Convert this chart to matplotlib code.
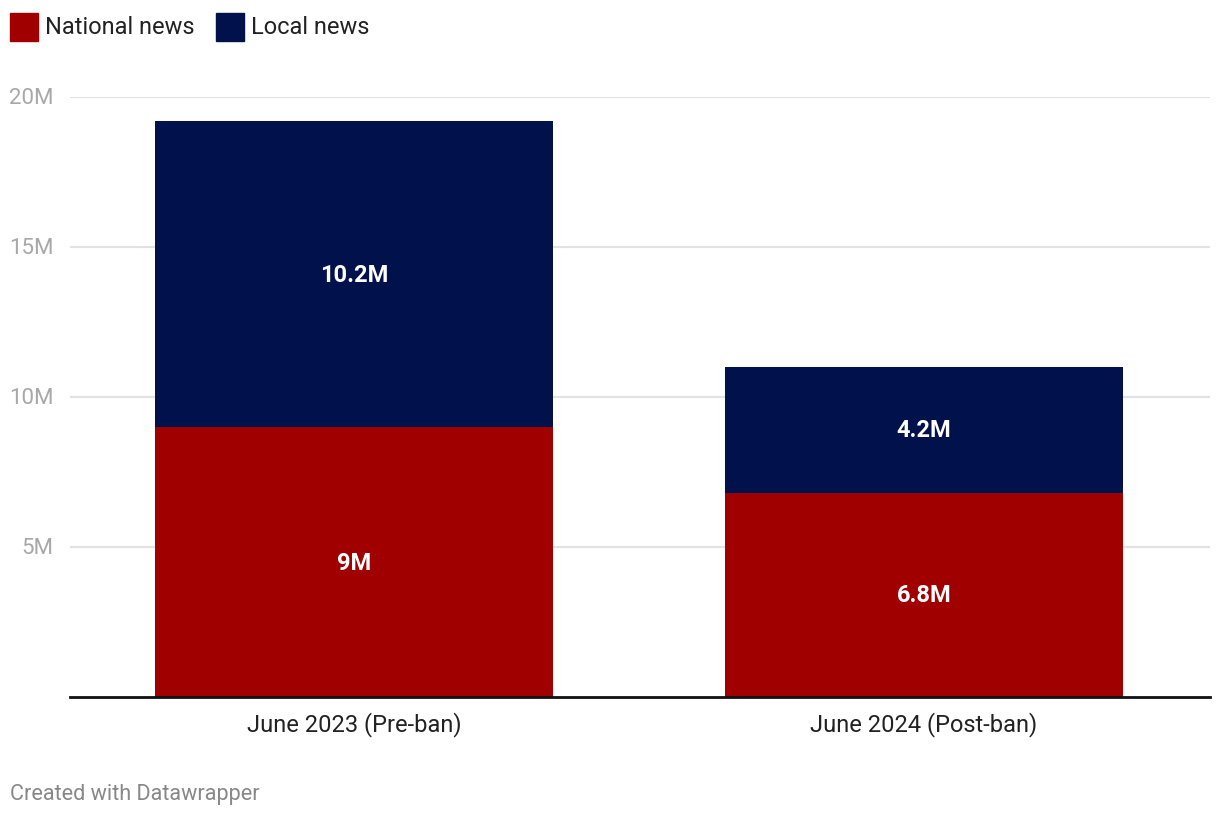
import matplotlib.pyplot as plt
from matplotlib.patches import Rectangle

plt.rcParams['font.family'] = ['Roboto', 'DejaVu Sans']

categories = ['June 2023 (Pre-ban)', 'June 2024 (Post-ban)']
national = [9.0, 6.8]
local = [10.2, 4.2]
yticks = [5, 10, 15, 20]
ytick_labels = ['5M', '10M', '15M', '20M']

red = '#a00000'
navy = '#01114b'

fig = plt.figure(figsize=(12.2, 8.2), dpi=100)
ax = fig.add_axes([70 / 1220, 122 / 820, 1140 / 1220, 600 / 820])

x = range(len(categories))
b1 = ax.bar(x, national, width=0.698, color=red, zorder=3)
b2 = ax.bar(x, local, width=0.698, bottom=national, color=navy, zorder=3)

for bars, vals, base in [(b1, national, [0, 0]), (b2, local, national)]:
    for rect, v, b in zip(bars, vals, base):
        ax.text(rect.get_x() + rect.get_width() / 2, b + v / 2, f'{v:g}M',
                ha='center', va='center', color='white', fontsize=17,
                fontweight='bold', zorder=4)

ax.set_xlim(-0.498, 1.502)
ax.set_ylim(0, 20)
ax.set_yticks(yticks)
ax.set_yticklabels(ytick_labels)
ax.set_xticks(list(x))
ax.set_xticklabels(categories)
ax.tick_params(axis='y', length=0, pad=12, labelsize=16, labelcolor='#a8a8a8')
ax.tick_params(axis='x', length=0, pad=10, labelsize=17, labelcolor='#222222')
for lab in ax.get_yticklabels():
    lab.set_va('center')
ax.grid(axis='y', color='#e2e2e2', linewidth=1.5, zorder=0)
for s in ['top', 'right', 'left']:
    ax.spines[s].set_visible(False)
ax.spines['bottom'].set_color('#111111')
ax.spines['bottom'].set_linewidth(2)
ax.spines['bottom'].set_zorder(5)

# legend
for px, col, lab in [(10, red, 'National news'), (216, navy, 'Local news')]:
    fig.add_artist(Rectangle((px / 1220, (820 - 42) / 820), 28 / 1220, 28 / 820,
                             transform=fig.transFigure, color=col))
    fig.text((px + 35) / 1220, (820 - 27) / 820, lab, fontsize=17,
             color='#222222', va='center', ha='left')

fig.text(10 / 1220, (820 - 795) / 820, 'Created with Datawrapper',
         fontsize=15.6, color='#888888', va='center', ha='left')

fig.savefig('out.png', dpi=100)
